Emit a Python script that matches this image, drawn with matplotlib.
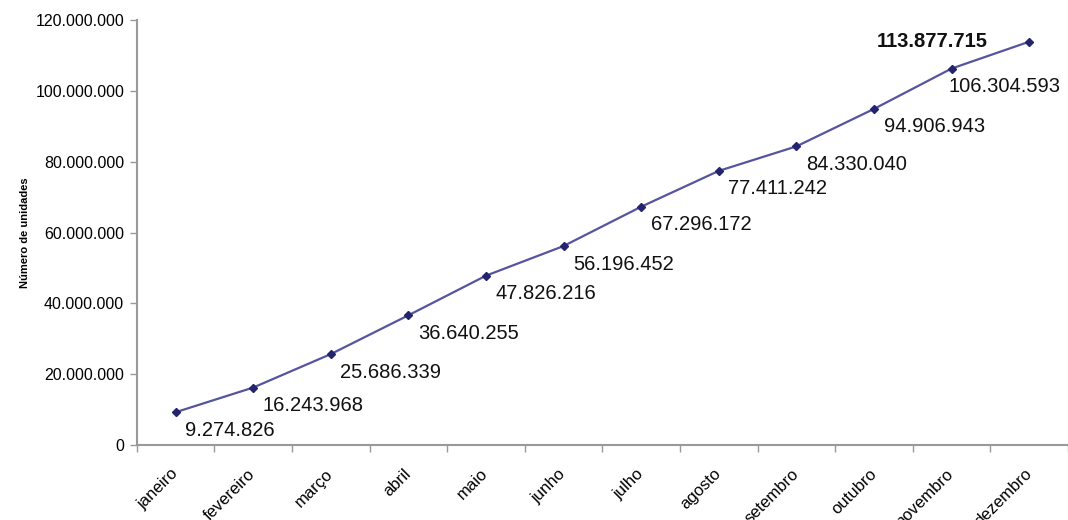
import matplotlib.pyplot as plt
from matplotlib.ticker import FuncFormatter, FixedLocator

plt.rcParams['font.family'] = ['Liberation Sans', 'DejaVu Sans']

# --- Dados ---
meses = ["janeiro", "fevereiro", "março", "abril", "maio", "junho",
         "julho", "agosto", "setembro", "outubro", "novembro", "dezembro"]
unidades = [9274826, 16243968, 25686339, 36640255, 47826216, 56196452,
            67296172, 77411242, 84330040, 94906943, 106304593, 113877715]
yticks = [0, 20000000, 40000000, 60000000, 80000000, 100000000, 120000000]


def formato_br(v):
    return f"{int(v):,}".replace(",", ".")


fig = plt.figure(figsize=(10.68, 5.2), dpi=100)
ax = fig.add_axes([0.128, 0.144, 0.872, 0.8175])

x = list(range(len(meses)))
ax.plot(x, unidades, color="#55559f", linewidth=1.6, zorder=2)
ax.plot(x, unidades, linestyle="none", marker="D", markersize=4.2,
        color="#23236e", zorder=3)

# rótulos de dados
n = len(unidades)
for i, v in enumerate(unidades):
    if i == n - 1:
        ax.annotate(formato_br(v), (i, v), xytext=(-110, 0), textcoords="offset points",
                    ha="left", va="center", fontsize=14.5, fontweight="bold", color="#111111")
    else:
        dx = -2 if i == n - 2 else 7
        ax.annotate(formato_br(v), (i, v), xytext=(dx, -13), textcoords="offset points",
                    ha="left", va="center", fontsize=14.5, color="#111111")

ax.set_xlim(-0.5, n - 0.5)
ax.set_ylim(0, 120000000)

# eixo y
ax.set_yticks(yticks)
ax.yaxis.set_major_formatter(FuncFormatter(lambda v, p: formato_br(v)))
ax.tick_params(axis="y", labelsize=11.5, length=5, width=1, color="#999999", pad=4)

# eixo x: marcas nas divisões, rótulos no centro
ax.xaxis.set_major_locator(FixedLocator([i - 0.5 for i in range(n + 1)]))
ax.xaxis.set_minor_locator(FixedLocator(x))
ax.set_xticklabels([], minor=False)
ax.set_xticklabels(meses, minor=True, rotation=45, ha="right", va="center",
                   rotation_mode="anchor")
ax.tick_params(axis="x", which="major", length=5, width=1, color="#999999")
ax.tick_params(axis="x", which="minor", length=0, labelsize=12, pad=19)

for lado in ["top", "right"]:
    ax.spines[lado].set_visible(False)
for lado in ["left", "bottom"]:
    ax.spines[lado].set_color("#999999")
    ax.spines[lado].set_linewidth(1.5)

ax.set_ylabel("Número de unidades", fontsize=8, fontweight="bold")
ax.yaxis.set_label_coords(-0.115, 0.5)

plt.savefig("out.png", dpi=100)
